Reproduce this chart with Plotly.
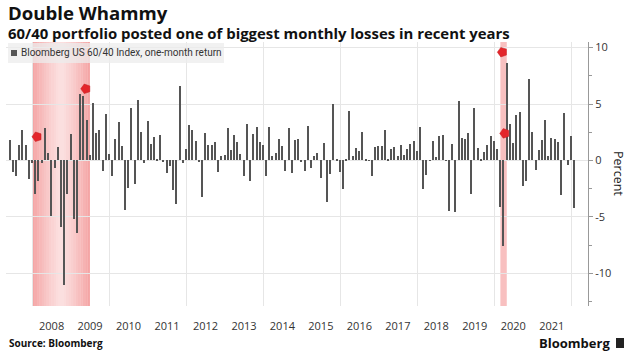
import pandas as pd
import plotly.graph_objects as go

# ---------------- data ----------------
start_month = "2007-05-01"
returns = [
    1.83, -1.0, -1.36, 1.4, 2.66, 1.4, -1.66, -0.2,            # May-Dec 2007
    -3.0, -1.8, -0.2, 2.87, 0.65, -4.9, -0.7, 1.2, -5.9, -11.0, -3.0, 2.37,   # 2008
    -5.2, -6.4, 5.9, 5.7, 3.55, 0.45, 5.1, 2.4, 2.66, -0.9, 4.14, 0.56,       # 2009
    -1.4, 1.9, 3.43, 1.3, -4.4, -2.46, 4.64, -2.07, 5.38, 2.5, -0.2, 3.5,     # 2010
    1.48, 2.07, 0.05, 2.28, -0.1, -1.07, -0.53, -2.6, -3.9, 6.6, -0.24, 1.04, # 2011
    3.17, 2.66, 1.75, -0.05, -3.2, 2.4, 1.36, 1.36, 1.6, -1.04, 0.36, 0.5,    # 2012
    2.84, 0.95, 2.25, 1.6, 0.56, -1.42, 3.2, -1.83, 2.34, 3.0, 1.66, 1.36,    # 2013
    -1.42, 3.0, 0.36, 0.65, 1.9, 1.3, -0.9, 2.84, -1.1, 1.83, 1.9, -0.1,      # 2014
    -0.9, 3.05, -0.68, 0.38, 0.65, -1.57, 1.54, -3.64, -1.24, 5.0, 0.1, -1.04, # 2015
    -2.54, 0.15, 4.38, 0.41, 1.1, 0.86, 2.5, 0.05, 0.02, -1.36, 1.18, 1.24,   # 2016
    1.3, 2.66, 0.05, 1.0, 1.18, 0.36, 1.36, 0.5, 1.0, 1.45, 1.75, 0.86,       # 2017
    3.0, -2.54, -1.27, 0.02, 1.75, 0.33, 2.13, 2.25, -0.02, -4.5, 1.45, -4.6, # 2018
    5.3, 1.95, 1.92, 2.4, -3.0, 4.64, 1.1, 0.1, 0.74, 1.4, 2.2, 1.72,         # 2019
    1.04, -4.1, -7.6, 8.64, 3.22, 1.54, 4.05, 4.26, -2.22, -1.8, 7.25, 2.5,   # 2020
    -0.83, 0.92, 1.83, 3.58, 0.38, 1.98, 1.9, 1.66, -3.1, 4.23, -0.38, 2.16,  # 2021
    -4.23,                                                      # Jan 2022
]
dates = pd.date_range(start_month, periods=len(returns), freq="MS") + pd.offsets.MonthEnd(0)

shade_starts = ["2007-12-31", "2020-02-29"]
shade_ends = ["2009-06-30", "2020-04-30"]

marker_dates = ["2008-02-13", "2009-05-21", "2020-03-19", "2020-04-11"]
marker_values = [2.1, 6.35, 9.6, 2.4]

year_labels = [str(y) for y in range(2008, 2022)]
year_ticks = [f"{y}-07-01" for y in range(2008, 2022)]
grid_years = [f"{y}-01-01" for y in range(2008, 2023, 2)]
y_ticks = [-10, -5, 0, 5, 10]
y_tick_text = ["-10", "-5", "0", "5", "10"]

series_name = "Bloomberg US 60/40 Index, one-month return"
title = "Double Whammy"
subtitle = "60/40 portfolio posted one of biggest monthly losses in recent years"
source = "Source: Bloomberg"

# ---------------- layout helpers (pixel -> paper) ----------------
L, R, T, B = 6, 49, 42, 53
W, H = 637, 359
PW, PH = W - L - R, H - T - B
def px(x): return (x - L) / PW
def py(y): return (H - B - y) / PH

FONT = "Open Sans, Noto Sans, sans-serif"
NARROW = "Roboto, Liberation Sans, sans-serif"

fig = go.Figure()
fig.add_trace(go.Bar(
    x=dates, y=returns, name=series_name, showlegend=False,
    marker=dict(color="#555555", line=dict(width=0)),
    width=14 * 86400000,
))
fig.add_trace(go.Scatter(
    x=marker_dates, y=marker_values, mode="markers", showlegend=False,
    marker=dict(symbol="pentagon", angle=-90, size=10, color="#e3262b",
                line=dict(color="#c41d21", width=0.5)),
    hoverinfo="skip",
))

shapes = []
# 2008-09 recession shade with a soft gradient (darker edges, lighter centre)
s0 = pd.Timestamp(shade_starts[0]); s1 = pd.Timestamp(shade_ends[0])
n = 24
span = (s1 - s0) / n
for i in range(n):
    c = (i + 0.5) / n
    d = abs(c - 0.5) * 2
    a = 0.16 + 0.32 * d ** 1.3
    shapes.append(dict(type="rect", xref="x", yref="paper",
                       x0=s0 + span * i, x1=s0 + span * (i + 1), y0=0, y1=1,
                       fillcolor=f"rgba(232,60,60,{a:.3f})", line=dict(width=0),
                       layer="below"))
shapes.append(dict(type="rect", xref="x", yref="paper",
                   x0=shade_starts[1], x1=shade_ends[1], y0=0, y1=1,
                   fillcolor="rgba(232,60,60,0.32)", line=dict(width=0),
                   layer="below"))
# legend box + swatch
shapes.append(dict(type="rect", xref="paper", yref="paper",
                   x0=px(8), x1=px(224), y0=py(63), y1=py(43),
                   fillcolor="rgba(236,236,236,0.75)", line=dict(width=0)))
shapes.append(dict(type="rect", xref="paper", yref="paper",
                   x0=px(11), x1=px(17), y0=py(56), y1=py(50),
                   fillcolor="#555555", line=dict(width=0)))
# Bloomberg logo glyph
shapes.append(dict(type="rect", xref="paper", yref="paper",
                   x0=px(616), x1=px(624), y0=py(348), y1=py(338),
                   fillcolor="#222222", line=dict(width=0)))

annotations = [
    dict(text=f"<b>{title}</b>", xref="paper", yref="paper",
         x=px(7), y=py(12.5), xanchor="left", yanchor="middle", borderpad=0,
         showarrow=False, font=dict(family=FONT, size=18.6, color="#111111")),
    dict(text=f"<b>{subtitle}</b>", xref="paper", yref="paper",
         x=px(7), y=py(33), xanchor="left", yanchor="middle", borderpad=0,
         showarrow=False, font=dict(family=FONT, size=14.9, color="#111111")),
    dict(text=series_name, xref="paper", yref="paper",
         x=px(19), y=py(53), xanchor="left", yanchor="middle",
         showarrow=False, font=dict(family=NARROW, size=10, color="#333333")),
    dict(text=f"<b>{source}</b>", xref="paper", yref="paper",
         x=px(7), y=py(343), xanchor="left", yanchor="middle",
         showarrow=False, font=dict(family=FONT, size=10, color="#111111")),
    dict(text="<b>Bloomberg</b>", xref="paper", yref="paper",
         x=px(612), y=py(343), xanchor="right", yanchor="middle",
         showarrow=False, font=dict(family=FONT, size=13, color="#111111")),
    dict(text="Percent", xref="paper", yref="paper",
         x=px(619), y=py(173), xanchor="center", yanchor="middle",
         textangle=90, showarrow=False, font=dict(family=FONT, size=12.5, color="#222222")),
]

fig.update_layout(
    width=W, height=H,
    margin=dict(l=L, r=R, t=T, b=B, autoexpand=False),
    paper_bgcolor="white", plot_bgcolor="white",
    bargap=0, showlegend=False,
    shapes=shapes, annotations=annotations,
    font=dict(family=FONT, color="#333333"),
)
fig.update_xaxes(
    type="date", range=["2007-04-25", "2022-06-10"], automargin=False,
    tickmode="array", tickvals=year_ticks, ticktext=year_labels,
    ticks="", showgrid=False, zeroline=False, showline=False,
    tickfont=dict(family=FONT, size=11, color="#333333"),
    ticklabelstandoff=12,
    minor=dict(tickmode="array", tickvals=grid_years, showgrid=True,
               gridcolor="#e6e6e6", gridwidth=1, ticks=""),
)
fig.update_yaxes(
    side="right", range=[-12.9, 10.5], automargin=False,
    tickmode="array", tickvals=y_ticks, ticktext=y_tick_text,
    showgrid=True, gridcolor="#e6e6e6", gridwidth=1, zeroline=False,
    showline=True, linecolor="#999999", linewidth=1,
    ticks="outside", ticklen=4, tickcolor="#999999",
    minor=dict(dtick=2.5, ticks="outside", ticklen=3, tickcolor="#999999", showgrid=False),
    tickfont=dict(family=FONT, size=11, color="#333333"),
)

fig.write_html("out.html", config={"displayModeBar": False},
               post_script="document.body.style.margin='0';")
